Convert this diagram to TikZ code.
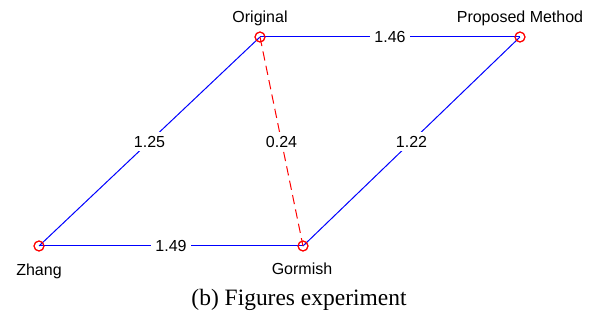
\documentclass[tikz,border=0pt]{standalone}
\usepackage{fontspec}
\setmainfont{Liberation Serif}
\newfontfamily\labfont{Liberation Sans}
\begin{document}
\begin{tikzpicture}[x=0.75pt,y=-0.75pt,
  pt/.style={circle,draw=red,line width=0.75pt,minimum size=7.5pt,inner sep=0pt},
  lab/.style={font=\labfont\fontsize{12}{14}\selectfont,anchor=base,inner sep=0pt},
  edge/.style={draw=blue,line width=0.75pt},
  redge/.style={draw=red,line width=0.75pt,dash pattern=on 7pt off 4pt},
  wlab/.style={fill=white,font=\labfont\fontsize{12}{14}\selectfont,inner sep=3pt}]
\useasboundingbox (0,0) rectangle (594,320);
\node[pt] (no) at (260,37) {};
\node[pt] (np) at (520,37) {};
\node[pt] (nz) at (39,246) {};
\node[pt] (ng) at (303,246) {};
\draw[edge] (no.center) -- node[wlab] (l146) {1.46} (np.center);
\draw[edge] (nz.center) -- node[wlab] (l125) {1.25} (no.center);
\draw[edge] (nz.center) -- node[wlab] (l149) {1.49} (ng.center);
\draw[edge] (ng.center) -- node[wlab] (l122) {1.22} (np.center);
\draw[redge] (no.center) -- node[wlab] (l024) {0.24} (ng.center);
\node[pt] at (no) {};
\node[pt] at (np) {};
\node[pt] at (nz) {};
\node[pt] at (ng) {};
\node[lab] (to) at (260,23) {Original};
\node[lab] (tp) at (520,23) {Proposed Method};
\node[lab] (tz) at (39,276) {Zhang};
\node[lab] (tg) at (302,275) {Gormish};
\node[anchor=base,inner sep=0pt,font=\fontsize{17.6}{20}\selectfont] (cap) at (299,306) {(b) Figures experiment};
\end{tikzpicture}
\end{document}
